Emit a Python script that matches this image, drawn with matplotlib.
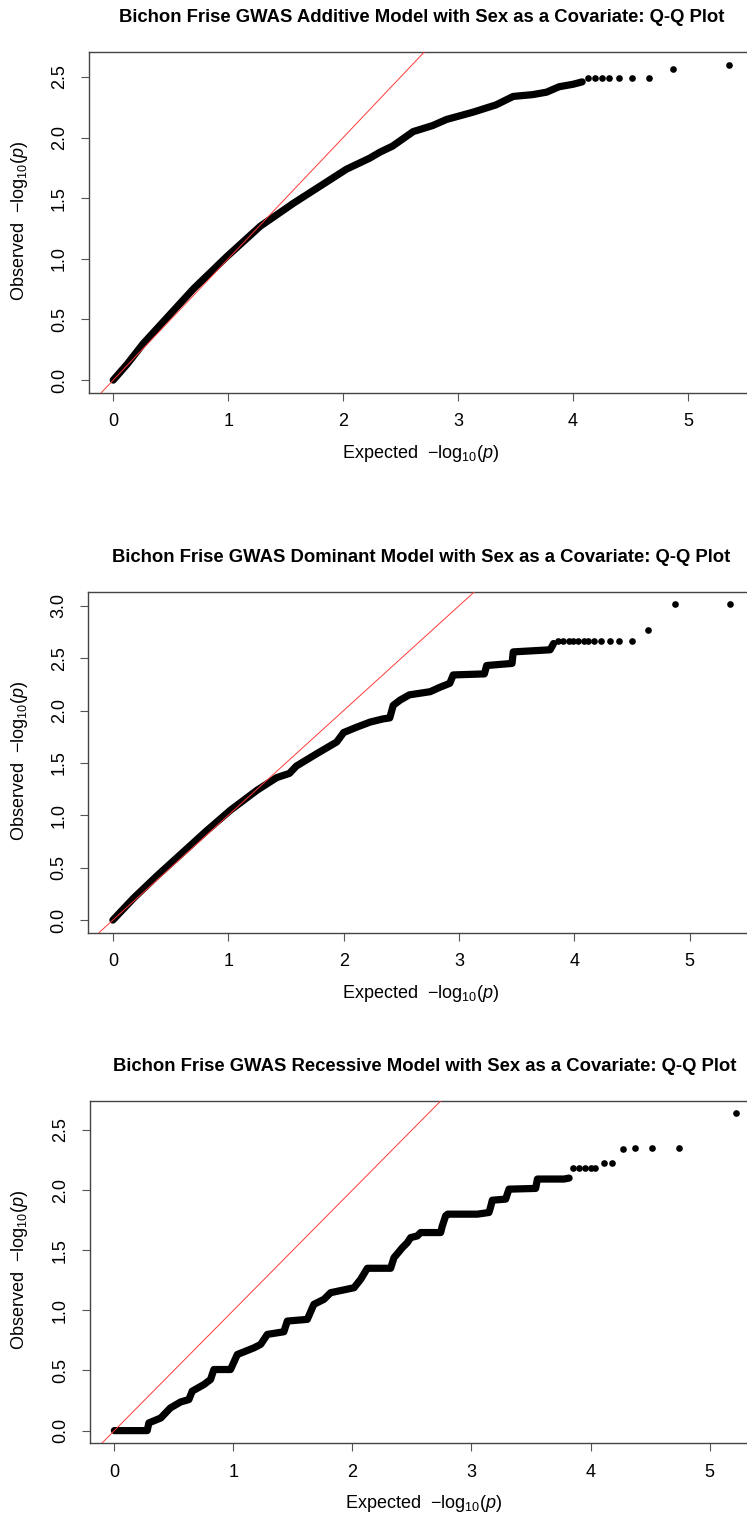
import matplotlib
matplotlib.use("Agg")
import matplotlib.pyplot as plt
import numpy as np

plt.rcParams["font.family"] = ["Liberation Sans", "DejaVu Sans"]
plt.rcParams["mathtext.fontset"] = "custom"
plt.rcParams["mathtext.rm"] = "Liberation Sans"
plt.rcParams["mathtext.it"] = "Liberation Sans:italic"

# ---------------- data: expected vs observed -log10(p) ----------------
# Additive model: dense body of the Q-Q curve and the sparse upper tail
add_exp = [0.0, 0.12, 0.26, 0.41, 0.70, 0.99, 1.28, 1.57, 1.80, 2.03, 2.23, 2.32,
           2.43, 2.61, 2.78, 2.90, 3.13, 3.33, 3.48, 3.65, 3.77, 3.88, 4.00, 4.08]
add_obs = [0.0, 0.13, 0.30, 0.455, 0.755, 1.02, 1.27, 1.46, 1.60, 1.74, 1.83, 1.88,
           1.93, 2.05, 2.10, 2.15, 2.21, 2.27, 2.34, 2.355, 2.375, 2.42, 2.44, 2.46]
add_tail_exp = [4.13, 4.19, 4.25, 4.31, 4.40, 4.51, 4.66, 4.87, 5.36]
add_tail_obs = [2.49, 2.49, 2.49, 2.49, 2.49, 2.49, 2.49, 2.57, 2.60]

# Dominant model
dom_exp = [0.0, 0.18, 0.38, 0.58, 0.81, 1.02, 1.25, 1.42, 1.53, 1.59, 1.77, 1.94,
           2.00, 2.11, 2.23, 2.34, 2.40, 2.43, 2.49, 2.57, 2.75, 2.83, 2.92, 2.95,
           3.22, 3.24, 3.46, 3.47, 3.79, 3.82]
dom_obs = [0.0, 0.21, 0.42, 0.62, 0.85, 1.05, 1.24, 1.36, 1.40, 1.47, 1.59, 1.70,
           1.79, 1.84, 1.89, 1.92, 1.93, 2.05, 2.10, 2.15, 2.18, 2.22, 2.26, 2.34,
           2.35, 2.43, 2.45, 2.56, 2.58, 2.64]
dom_tail_exp = [3.86, 3.90, 3.95, 3.99, 4.03, 4.08, 4.12, 4.17, 4.23, 4.31, 4.39,
                4.50, 4.64, 4.87, 5.35]
dom_tail_obs = [2.666, 2.666, 2.666, 2.666, 2.666, 2.666, 2.666, 2.666, 2.666,
                2.666, 2.666, 2.666, 2.765, 3.014, 3.014]

# Recessive model
rec_exp = [0.0, 0.276, 0.29, 0.39, 0.47, 0.556, 0.626, 0.654, 0.752, 0.808, 0.836,
           0.976, 1.033, 1.172, 1.229, 1.285, 1.424, 1.453, 1.621, 1.676, 1.761,
           1.817, 2.013, 2.069, 2.125, 2.321, 2.349, 2.42, 2.461, 2.489, 2.545,
           2.573, 2.741, 2.755, 2.783, 2.80, 3.05, 3.147, 3.161, 3.175, 3.287,
           3.315, 3.539, 3.554, 3.777, 3.82]
rec_obs = [0.0, 0.0, 0.064, 0.105, 0.188, 0.238, 0.258, 0.328, 0.383, 0.425, 0.508,
           0.508, 0.633, 0.688, 0.717, 0.80, 0.822, 0.911, 0.925, 1.05, 1.092,
           1.147, 1.188, 1.258, 1.35, 1.35, 1.438, 1.522, 1.563, 1.605, 1.619,
           1.647, 1.647, 1.702, 1.786, 1.80, 1.80, 1.814, 1.861, 1.916, 1.925,
           2.008, 2.014, 2.092, 2.092, 2.10]
rec_tail_exp = [3.85, 3.90, 3.95, 4.00, 4.04, 4.11, 4.18, 4.27, 4.37, 4.52, 4.74, 5.22]
rec_tail_obs = [2.188, 2.188, 2.188, 2.188, 2.188, 2.222, 2.222, 2.342, 2.347,
                2.347, 2.347, 2.638]

x_ticks = [0, 1, 2, 3, 4, 5]
add_y_ticks = [0.0, 0.5, 1.0, 1.5, 2.0, 2.5]
dom_y_ticks = [0.0, 0.5, 1.0, 1.5, 2.0, 2.5, 3.0]
rec_y_ticks = [0.0, 0.5, 1.0, 1.5, 2.0, 2.5]

titles = [
    "Bichon Frise GWAS Additive Model with Sex as a Covariate: Q-Q Plot",
    "Bichon Frise GWAS Dominant Model with Sex as a Covariate: Q-Q Plot",
    "Bichon Frise GWAS Recessive Model with Sex as a Covariate: Q-Q Plot",
]
x_label = r"Expected  $-\mathrm{log}_{10}(p)$"
y_label = r"Observed  $-\mathrm{log}_{10}(p)$"

# ---------------- figure ----------------
W, H = 747, 1517
fig = plt.figure(figsize=(W / 100, H / 100), dpi=100)
FS = 13


def px_axes(left, top, right, bottom):
    return fig.add_axes([left / W, 1 - bottom / H, (right - left) / W, (bottom - top) / H])


def qq_panel(box, title, title_pos, xlab_pos, ylab_pos,
             cur_e, cur_o, tail_e, tail_o, yticks):
    ax = px_axes(*box)
    ax.plot(cur_e, cur_o, color="black", lw=5.2, solid_capstyle="round",
            solid_joinstyle="round", zorder=2)
    ax.plot(tail_e, tail_o, "o", color="black", ms=4.8, mec="black", mew=0, zorder=2)
    ax.axline((0, 0), slope=1, color="#ff3a3a", lw=0.7, zorder=3)

    e_all = np.concatenate([cur_e, tail_e])
    o_all = np.concatenate([cur_o, tail_o])
    ex = 0.04 * (e_all.max() - e_all.min())
    oy = 0.04 * (o_all.max() - o_all.min())
    ax.set_xlim(e_all.min() - ex, e_all.max() + ex)
    ax.set_ylim(o_all.min() - oy, o_all.max() + oy)

    ax.set_xticks(x_ticks)
    ax.set_xticklabels([str(t) for t in x_ticks])
    ax.set_yticks(yticks)
    ax.set_yticklabels([f"{t:.1f}" for t in yticks])
    for s in ax.spines.values():
        s.set_color("#444444")
        s.set_linewidth(1.0)
    ax.tick_params(length=5.8, width=0.8, color="#555555", pad=9, labelsize=FS)
    ax.tick_params(axis="y", labelrotation=90)
    for lab in ax.get_yticklabels():
        lab.set_va("center")

    fig.text(title_pos[0] / W, 1 - title_pos[1] / H, title, ha="center",
             va="baseline", fontsize=13.3, fontweight="bold")
    fig.text(xlab_pos[0] / W, 1 - xlab_pos[1] / H, x_label, ha="center",
             va="baseline", fontsize=FS)
    fig.text(ylab_pos[0] / W, 1 - ylab_pos[1] / H, y_label, ha="center",
             va="center", rotation=90, fontsize=FS)
    return ax


qq_panel((88.6, 52.3, 753.9, 392.7), titles[0], (421.5, 21.7), (421, 458.5), (20, 221),
         np.array(add_exp), np.array(add_obs), np.array(add_tail_exp),
         np.array(add_tail_obs), add_y_ticks)
qq_panel((88.2, 591.7, 754.8, 932.7), titles[1], (421.3, 562.3), (421, 997.5), (20, 761),
         np.array(dom_exp), np.array(dom_obs), np.array(dom_tail_exp),
         np.array(dom_tail_obs), dom_y_ticks)
qq_panel((89.5, 1100.7, 760.6, 1443.3), titles[2], (424.5, 1070.7), (424, 1508.5), (20, 1270),
         np.array(rec_exp), np.array(rec_obs), np.array(rec_tail_exp),
         np.array(rec_tail_obs), rec_y_ticks)

fig.savefig("out.png", dpi=100)
